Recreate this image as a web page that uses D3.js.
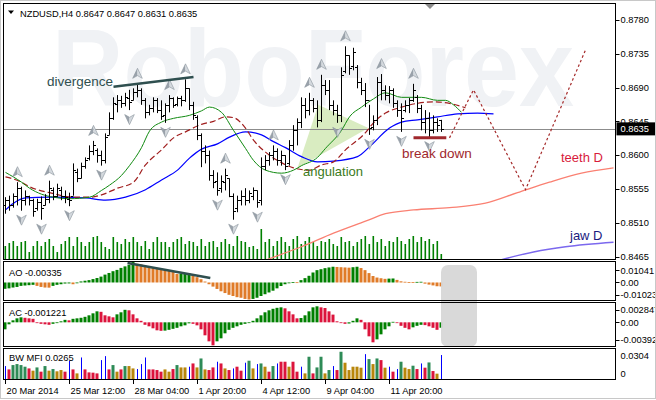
<!DOCTYPE html>
<html><head><meta charset="utf-8">
<script src="https://cdn.jsdelivr.net/npm/d3@7"></script>
<style>
body{margin:0;background:#fff}
svg{display:block}
text{font-family:"Liberation Sans",Arial,sans-serif}
</style>
</head><body>
<svg id="c" width="656" height="400"></svg>
<script>
// ---------------- DATA ----------------
const symbolLabel = "NZDUSD,H4";
const lastQuote = [0.8647, 0.8647, 0.8631, 0.8635];
const currentPrice = 0.8635;

const opens = [0.8533,0.8540,0.8534,0.8545,0.8556,0.8540,0.8545,0.8540,0.8529,0.8537,
0.8533,0.8542,0.8553,0.8546,0.8553,0.8546,0.8542,0.8546,0.8577,0.8570,
0.8585,0.8596,0.8606,0.8607,0.8600,0.8593,0.8627,0.8649,0.8668,0.8673,
0.8669,0.8676,0.8673,0.8684,0.8687,0.8673,0.8657,0.8663,0.8673,0.8660,
0.8653,0.8667,0.8676,0.8668,0.8676,0.8673,0.8689,0.8667,0.8651,0.8627,
0.8606,0.8600,0.8573,0.8566,0.8556,0.8564,0.8569,0.8546,0.8529,0.8540,
0.8546,0.8540,0.8546,0.8553,0.8540,0.8586,0.8593,0.8600,0.8606,0.8593,
0.8600,0.8589,0.8613,0.8633,0.8644,0.8667,0.8660,0.8673,0.8663,0.8647,
0.8693,0.8687,0.8667,0.8660,0.8653,0.8712,0.8733,0.8719,0.8718,0.8697,
0.8687,0.8673,0.8637,0.8647,0.8697,0.8687,0.8680,0.8687,0.8669,0.8660,
0.8660,0.8667,0.8673,0.8678,0.8663,0.8644,0.8649,0.8633,0.8644,0.8647];
const highs = [0.8544,0.8546,0.8549,0.8564,0.8558,0.8553,0.8546,0.8542,0.8542,0.8545,
0.8548,0.8566,0.8557,0.8562,0.8558,0.8553,0.8550,0.8589,0.8582,0.8590,
0.8597,0.8613,0.8619,0.8609,0.8606,0.8629,0.8657,0.8677,0.8680,0.8679,
0.8683,0.8687,0.8689,0.8695,0.8689,0.8676,0.8667,0.8677,0.8676,0.8673,
0.8669,0.8680,0.8677,0.8678,0.8679,0.8701,0.8689,0.8671,0.8653,0.8629,
0.8613,0.8606,0.8580,0.8577,0.8573,0.8582,0.8569,0.8549,0.8546,0.8553,
0.8556,0.8553,0.8557,0.8553,0.8597,0.8600,0.8604,0.8613,0.8609,0.8606,
0.8600,0.8620,0.8640,0.8649,0.8677,0.8676,0.8683,0.8676,0.8673,0.8707,
0.8700,0.8700,0.8673,0.8667,0.8717,0.8745,0.8733,0.8743,0.8720,0.8703,
0.8696,0.8667,0.8653,0.8704,0.8708,0.8693,0.8692,0.8689,0.8673,0.8669,
0.8673,0.8676,0.8695,0.8680,0.8667,0.8660,0.8657,0.8653,0.8649,0.8647];
const lows = [0.8522,0.8526,0.8530,0.8533,0.8526,0.8533,0.8533,0.8518,0.8526,0.8514,
0.8533,0.8536,0.8540,0.8544,0.8540,0.8536,0.8532,0.8546,0.8564,0.8569,
0.8582,0.8593,0.8600,0.8590,0.8586,0.8589,0.8627,0.8647,0.8657,0.8663,
0.8665,0.8660,0.8673,0.8677,0.8667,0.8649,0.8653,0.8657,0.8656,0.8647,
0.8643,0.8657,0.8663,0.8665,0.8665,0.8671,0.8660,0.8647,0.8620,0.8584,
0.8589,0.8566,0.8556,0.8546,0.8550,0.8553,0.8544,0.8514,0.8524,0.8533,
0.8533,0.8536,0.8540,0.8530,0.8533,0.8580,0.8586,0.8593,0.8586,0.8586,
0.8580,0.8586,0.8606,0.8613,0.8636,0.8649,0.8653,0.8657,0.8637,0.8644,
0.8680,0.8660,0.8653,0.8643,0.8644,0.8709,0.8707,0.8713,0.8689,0.8680,
0.8664,0.8627,0.8633,0.8640,0.8673,0.8673,0.8669,0.8663,0.8651,0.8631,
0.8657,0.8656,0.8671,0.8656,0.8633,0.8629,0.8624,0.8629,0.8631,0.8631];
const closes = [0.8540,0.8533,0.8545,0.8556,0.8540,0.8546,0.8540,0.8526,0.8537,0.8530,
0.8542,0.8556,0.8546,0.8556,0.8546,0.8544,0.8540,0.8580,0.8569,0.8586,
0.8593,0.8606,0.8613,0.8600,0.8593,0.8624,0.8649,0.8669,0.8673,0.8669,
0.8677,0.8671,0.8684,0.8687,0.8673,0.8657,0.8663,0.8673,0.8660,0.8652,
0.8667,0.8676,0.8667,0.8676,0.8673,0.8689,0.8667,0.8653,0.8627,0.8606,
0.8600,0.8573,0.8564,0.8553,0.8566,0.8573,0.8546,0.8526,0.8540,0.8546,
0.8540,0.8549,0.8553,0.8537,0.8586,0.8593,0.8600,0.8606,0.8593,0.8600,
0.8586,0.8613,0.8633,0.8644,0.8667,0.8660,0.8673,0.8663,0.8647,0.8693,
0.8687,0.8667,0.8660,0.8653,0.8707,0.8733,0.8716,0.8737,0.8697,0.8687,
0.8673,0.8636,0.8647,0.8697,0.8687,0.8680,0.8687,0.8669,0.8660,0.8649,
0.8667,0.8673,0.8687,0.8663,0.8644,0.8649,0.8633,0.8644,0.8640,0.8635];

const volumes = [1300,1600,1800,1300,1700,1800,700,1300,1800,1300,
1700,2000,1300,700,1500,1800,2200,1300,2200,1700,
1300,1700,2200,2300,1700,1200,1000,2200,1700,1500,
2000,1700,2200,1700,1300,1800,1000,1700,2200,1700,
1700,1200,1700,2000,2200,1500,1800,1700,1300,2000,
1300,1700,1800,1200,1700,2000,1500,1300,2300,1800,
1700,1200,1300,1000,3000,1700,2000,1300,1800,2200,
1700,1300,2000,2300,1500,1800,2200,1700,1300,1800,
1700,2000,1500,1300,2200,1700,1800,1300,1700,2000,
2300,1500,2300,1700,2000,1300,1800,1700,2200,1800,
1500,2000,2300,1700,2200,1800,2000,1500,1800,500];

const aoValues = [-0.0054,-0.0050,-0.0043,-0.0038,-0.0029,-0.0026,-0.0023,-0.0020,-0.0029,-0.0038,
-0.0043,-0.0044,-0.0029,-0.0020,-0.0015,-0.0009,-0.0008,-0.0015,-0.0004,0.0009,
0.0015,0.0020,0.0029,0.0038,0.0050,0.0067,0.0081,0.0096,0.0107,0.0124,
0.0137,0.0150,0.0174,0.0159,0.0154,0.0145,0.0137,0.0130,0.0122,0.0116,
0.0107,0.0102,0.0096,0.0072,0.0074,0.0076,0.0077,0.0060,0.0045,0.0028,
0.0008,-0.0015,-0.0035,-0.0055,-0.0075,-0.0090,-0.0105,-0.0115,-0.0125,-0.0130,
-0.0140,-0.0145,-0.0140,-0.0130,-0.0115,-0.0100,-0.0085,-0.0070,-0.0050,-0.0030,
-0.0015,-0.0005,0.0003,0.0002,0.0020,0.0037,0.0057,0.0085,0.0105,0.0113,
0.0122,0.0128,0.0134,0.0132,0.0130,0.0128,0.0126,0.0130,0.0134,0.0123,
0.0105,0.0080,0.0055,0.0042,0.0036,0.0031,0.0033,0.0034,0.0022,0.0010,
0.0006,0.0004,0.0003,0.0005,0.0006,-0.0010,-0.0018,-0.0025,-0.0032,-0.00335];

const acValues = [-0.00158,-0.00045,0.00045,0.00090,0.00113,0.00102,0.00090,0.00079,-0.00011,-0.00034,
-0.00045,-0.00056,-0.00034,-0.00011,0.00023,0.00056,0.00045,0.00079,0.00090,0.00102,
0.00124,0.00158,0.00203,0.00248,0.00237,0.00158,0.00135,0.00113,0.00180,0.00226,
0.00282,0.00271,0.00180,0.00090,0.00034,-0.00056,-0.00090,-0.00135,-0.00180,-0.00192,
-0.00187,-0.00169,-0.00147,-0.00124,-0.00090,-0.00068,-0.00023,-0.00034,-0.00068,-0.00158,
-0.00293,-0.00429,-0.00519,-0.00429,-0.00361,-0.00248,-0.00169,-0.00124,-0.00090,-0.00056,
-0.00034,-0.00011,0.00034,0.00090,0.00158,0.00226,0.00271,0.00305,0.00327,0.00338,
0.00316,0.00248,0.00180,0.00090,0.00097,0.00158,0.00248,0.00338,0.00361,0.00338,
0.00323,0.00248,0.00174,0.00023,-0.00011,-0.00034,-0.00027,0.00034,0.00090,0.00056,
-0.00158,-0.00316,-0.00451,-0.00384,-0.00271,-0.00158,-0.00090,0.00011,-0.00007,-0.00079,
-0.00124,-0.00158,-0.00113,-0.00079,-0.00056,-0.00063,-0.00090,-0.00124,-0.00169,-0.001221];

const mfiValues = [0.0143,0.0106,0.0154,0.0165,0.0154,0.0136,0.0117,0.0092,0.0128,0.0081,
0.0143,0.0092,0.0110,0.0085,0.0099,0.0081,0.0202,0.0106,0.0062,0.0238,
0.0106,0.0073,0.0070,0.0062,0.0209,0.0253,0.0106,0.0154,0.0081,0.0106,
0.0143,0.0143,0.0117,0.0110,0.0165,0.0238,0.0106,0.0106,0.0099,0.0081,
0.0106,0.0081,0.0110,0.0154,0.0128,0.0128,0.0136,0.0172,0.0128,0.0227,
0.0106,0.0099,0.0128,0.0191,0.0172,0.0117,0.0099,0.0117,0.0136,0.0092,
0.0180,0.0202,0.0117,0.0165,0.0172,0.0136,0.0081,0.0143,0.0172,0.0191,
0.0191,0.0136,0.0191,0.0081,0.0136,0.0062,0.0246,0.0062,0.0128,0.0246,
0.0062,0.0099,0.0143,0.0099,0.0301,0.0180,0.0099,0.0136,0.0136,0.0125,
0.0275,0.0220,0.0165,0.0227,0.0209,0.0125,0.0136,0.0081,0.0110,0.0191,
0.0125,0.0110,0.0147,0.0110,0.0172,0.0125,0.0183,0.0088,0.0059,0.0265];
// g = green, b = fade (brown), f = fake (blue), s = squat (pink)
const mfiKinds = ["f","s","g","g","g","g","s","b","g","s",
"g","b","g","b","b","s","f","s","b","f",
"s","s","s","s","f","f","s","g","b","s",
"g","b","b","f","f","f","s","s","s","s",
"b","b","s","g","b","b","f","s","b","g",
"b","s","s","f","s","b","s","f","s","s",
"f","g","b","f","g","b","s","g","f","s",
"s","b","s","s","f","b","g","s","g","g",
"b","g","f","s","g","b","b","b","b","b",
"f","g","b","g","s","b","f","s","f","g",
"b","b","g","s","f","s","g","s","b","f"];

// Alligator (H4) and daily alligator, read at sample bars (index, price)
const lipsIdx = [0,4,6,9,12,16,21,24,26,29,31,34,36,39,42,46,49,51,54,57,60,62,65,69,72,74,78,80,84,86,89,92,95,99,104,108,110,112,114];
const lipsVal = [0.8577,0.8564,0.8556,0.8548,0.8544,0.8542,0.8544,0.8553,0.8560,0.8573,0.8586,0.8610,0.8632,0.8644,0.8649,0.8653,0.8659,0.8664,0.8657,0.8633,0.8609,0.8593,0.8580,0.8576,0.8580,0.8586,0.8597,0.8609,0.8633,0.8651,0.8664,0.8675,0.8683,0.8677,0.8677,0.8673,0.8673,0.8667,0.8657];
const teethIdx = [0,4,6,11,17,21,24,28,32,35,39,42,45,49,52,55,57,60,62,65,69,72,76,79,82,85,90,92,95,99,103,107,111,115];
const teethVal = [0.8571,0.8564,0.8558,0.8550,0.8544,0.8544,0.8547,0.8556,0.8564,0.8587,0.8607,0.8623,0.8631,0.8641,0.8645,0.8651,0.8650,0.8636,0.8620,0.8604,0.8590,0.8583,0.8580,0.8587,0.8591,0.8607,0.8630,0.8643,0.8656,0.8664,0.8669,0.8671,0.8669,0.8663];
const jawIdx = [0,2,5,11,20,25,30,35,39,43,46,49,53,56,60,64,67,70,74,78,82,88,91,96,99,103,108,113,118,122];
const jawVal = [0.8527,0.8536,0.8543,0.8544,0.8543,0.8540,0.8544,0.8554,0.8567,0.8580,0.8596,0.8608,0.8615,0.8624,0.8631,0.8627,0.8618,0.8610,0.8598,0.8591,0.8592,0.8598,0.8611,0.8636,0.8644,0.8647,0.8651,0.8655,0.8656,0.8655];
const teethDIdx = [64,70,74,82,90,95,102,111,120,128,136,144,152];
const teethDVal = [0.8458,0.8470,0.8478,0.8496,0.8512,0.8522,0.8527,0.8530,0.8536,0.8550,0.8564,0.8576,0.8583];
const jawDIdx = [122,132,140,152];
const jawDVal = [0.8458,0.8471,0.8478,0.8484];

// forecast zigzag
const forecastIdx = [111,117,130,145];
const forecastVal = [0.8623,0.8687,0.8554,0.8740];

// fractals (bar indices)
const fractalUp = [3,11,22,33,41,45,55,67,76,79,85,94,102];
const fractalDown = [4,9,16,24,31,40,53,57,63,70,83,91,99,106];

// annotations
const divergenceIdx = [27,47];
const divergenceVal = [0.8691,0.8704];
const aoDivergenceIdx = [30.5,51.2];
const aoDivergenceVal = [0.0166,0.0038];
const breakDownIdx = [102,110.2];
const breakDownVal = 0.8623;
const angulationIdx = [73,78.2,90.7];
const angulationVal = [0.8583,0.8667,0.8636];

const priceTicks = [0.8780,0.8735,0.8690,0.8645,0.8600,0.8555,0.8510,0.8465];
const aoTicks = [0.01041,0.00,-0.01023];
const aoTickLabels = ["0.01041","0.00","-0.01023"];
const acTicks = [0.002847,0.00,-0.00392];
const acTickLabels = ["0.002847","0.00","-0.00392"];
const mfiTicks = [0.0304,0];
const mfiTickLabels = ["0.0304","0"];
const timeTickIdx = [0,16,32,48,64,80,96];
const timeTickLabels = ["20 Mar 2014","25 Mar 12:00","28 Mar 04:00","1 Apr 20:00","4 Apr 12:00","9 Apr 04:00","11 Apr 20:00"];

// ---------------- DRAW ----------------
const svg = d3.select("#c");
const FS = 9.3;
const L = 3.5, R = 615.5;
const P = {main:[3.5,259.5], ao:[261.5,300.5], ac:[302.5,346.5], mfi:[348.5,379.5]};

const x = d3.scaleLinear().domain([0,109]).range([5.5,441.5]);
const y = d3.scaleLinear().domain([0.8465,0.8780]).range([256.5,20]);
const yVol = d3.scaleLinear().domain([0,3000]).range([259,229]);
const yAO = d3.scaleLinear().domain([-0.01023,0.01041]).range([294.5,270.25]);
const yAC = d3.scaleLinear().domain([-0.00392,0.002847]).range([339.7,309.7]);
const yMFI = d3.scaleLinear().domain([0,0.0304]).range([379,351.5]);

svg.append("rect").attr("x",0).attr("y",0).attr("width",656).attr("height",400).attr("fill","#fff");

const defs = svg.append("defs");
Object.entries(P).forEach(([k,[t,b]])=>{
  defs.append("clipPath").attr("id","clip-"+k).append("rect")
    .attr("x",L+0.5).attr("y",t+0.5).attr("width",R-L-1).attr("height",b-t-1);
});

// watermark
const main = svg.append("g").attr("clip-path","url(#clip-main)");
main.append("text").attr("x",52).attr("y",106).attr("font-size",110).attr("font-weight","bold")
  .attr("fill","#f0f2f5").attr("textLength",522).attr("lengthAdjust","spacingAndGlyphs").text("RoboForex");

// angulation triangle
main.append("path")
  .attr("d", d3.line()(angulationIdx.map((d,i)=>[x(d), y(angulationVal[i])])) + "Z")
  .attr("fill","#d9ecc1");

// volumes
main.append("g").selectAll("rect").data(volumes).join("rect")
  .attr("x",(d,i)=>x(i)-1).attr("width",1.6)
  .attr("y",d=>yVol(d)).attr("height",d=>yVol(0)-yVol(d)).attr("fill","#008000");

// lines
function drawLine(idx, val, color, w, dash){
  main.append("path").attr("d", d3.line().curve(d3.curveMonotoneX)(idx.map((d,i)=>[x(d), y(val[i])])))
    .attr("fill","none").attr("stroke",color).attr("stroke-width",w).attr("stroke-dasharray",dash||null);
}
drawLine(teethDIdx, teethDVal, "#fa8072", 1.3);
drawLine(jawDIdx, jawDVal, "#7b68ee", 1.3);

// current price line
main.append("line").attr("x1",L).attr("x2",R).attr("y1",Math.round(y(currentPrice))+0.5).attr("y2",Math.round(y(currentPrice))+0.5)
  .attr("stroke","#8c8c8c").attr("stroke-width",1);

drawLine(jawIdx, jawVal, "#0000ff", 1.2);
drawLine(teethIdx, teethVal, "#a01e1e", 1.2, "6,3");
drawLine(lipsIdx, lipsVal, "#108a10", 1);

// forecast
main.append("path").attr("d", d3.line()(forecastIdx.map((d,i)=>[x(d), y(forecastVal[i])])))
  .attr("fill","none").attr("stroke","#a52a2a").attr("stroke-width",1.2).attr("stroke-dasharray","2.5,2.5");

// OHLC bars
const pr = v => Math.round(v)+0.5;
main.append("g").selectAll("path").data(d3.range(opens.length)).join("path")
  .attr("d", i => {
    const xx = pr(x(i)-0.5);
    return `M${xx},${y(highs[i])}V${y(lows[i])}M${xx-2.5},${pr(y(opens[i]))}H${xx}M${xx},${pr(y(closes[i]))}H${xx+2.5}`;
  })
  .attr("stroke","#000").attr("stroke-width",1).attr("fill","none");

// fractals
function fractal(g, cx, cy, up){
  const s = up ? 1 : -1;
  const gg = g.append("g").attr("transform",`translate(${cx},${cy}) scale(1,${s})`);
  gg.append("path").attr("d","M0,-5.5L-4.8,4.5L0,1.8Z").attr("fill","#9aa2ab");
  gg.append("path").attr("d","M0,-5.5L4.8,4.5L0,1.8Z").attr("fill","#d4d9de");
  gg.append("path").attr("d","M0,-5.5L-4.8,4.5L0,1.8L4.8,4.5Z").attr("fill","none").attr("stroke","#8a939c").attr("stroke-width",0.6);
}
const fg = main.append("g");
fractalUp.forEach(i => fractal(fg, x(i), y(highs[i]) - 10, true));
fractalDown.forEach(i => fractal(fg, x(i), y(lows[i]) + 9, false));

// annotations
main.append("line").attr("x1",x(divergenceIdx[0])).attr("y1",y(divergenceVal[0]))
  .attr("x2",x(divergenceIdx[1])).attr("y2",y(divergenceVal[1])).attr("stroke","#2f4f4f").attr("stroke-width",2.5);
main.append("text").attr("x",47).attr("y",86).attr("font-size",13.5).attr("fill","#2f4f4f").text("divergence");
main.append("text").attr("x",303).attr("y",176).attr("font-size",13).attr("fill","#3b7a20").text("angulation");
main.append("line").attr("x1",x(breakDownIdx[0])).attr("x2",x(breakDownIdx[1]))
  .attr("y1",y(breakDownVal)).attr("y2",y(breakDownVal)).attr("stroke","#a0282d").attr("stroke-width",3);
main.append("text").attr("x",402).attr("y",158).attr("font-size",13.5).attr("fill","#a0282d").text("break down");
main.append("text").attr("x",561).attr("y",162).attr("font-size",13).attr("fill","#d81b3c").text("teeth D");
main.append("text").attr("x",570).attr("y",240).attr("font-size",13).attr("fill","#1a1a80").text("jaw D");

// chart shift marker
svg.append("path").attr("d","M425,4L435,4L430,9Z").attr("fill","#8c8c8c");

// header
svg.append("path").attr("d","M8,10.5L14,10.5L11,14Z").attr("fill","#000");
svg.append("text").attr("x",20).attr("y",16.5).attr("font-size",FS).attr("fill","#000")
  .text(symbolLabel + "  " + lastQuote.map(v=>v.toFixed(4)).join(" "));

// AO
const ao = svg.append("g").attr("clip-path","url(#clip-ao)");
ao.selectAll("rect").data(aoValues).join("rect")
  .attr("x",(d,i)=>x(i)-2).attr("width",3)
  .attr("y",d=>Math.min(yAO(d),yAO(0))).attr("height",d=>Math.max(0.8,Math.abs(yAO(d)-yAO(0))))
  .attr("fill",(d,i)=> (i===0 || d>aoValues[i-1]) ? "#008000" : "#e07b28");
ao.append("line").attr("x1",x(aoDivergenceIdx[0])).attr("y1",yAO(aoDivergenceVal[0]))
  .attr("x2",x(aoDivergenceIdx[1])).attr("y2",yAO(aoDivergenceVal[1])).attr("stroke","#2f4f4f").attr("stroke-width",2.5);
svg.append("text").attr("x",9).attr("y",275.5).attr("font-size",FS).text("AO " + aoValues[aoValues.length-1].toFixed(5));

// AC
const ac = svg.append("g").attr("clip-path","url(#clip-ac)");
ac.selectAll("rect").data(acValues).join("rect")
  .attr("x",(d,i)=>x(i)-2).attr("width",3)
  .attr("y",d=>Math.min(yAC(d),yAC(0))).attr("height",d=>Math.max(0.8,Math.abs(yAC(d)-yAC(0))))
  .attr("fill",(d,i)=> (i===0 || d>acValues[i-1]) ? "#008000" : "#dc143c");
svg.append("text").attr("x",9).attr("y",315.5).attr("font-size",FS).text("AC " + acValues[acValues.length-1].toFixed(6));

// MFI
const mfiColor = {g:"#2e8b57", b:"#b8860b", f:"#0000ff", s:"#dc143c"};
const mfi = svg.append("g").attr("clip-path","url(#clip-mfi)");
mfi.selectAll("rect").data(mfiValues).join("rect")
  .attr("x",(d,i)=> mfiKinds[i]==="f" ? x(i)-0.5 : x(i)-2)
  .attr("width",(d,i)=> mfiKinds[i]==="f" ? 1 : 3)
  .attr("y",d=>yMFI(d)).attr("height",d=>yMFI(0)-yMFI(d))
  .attr("fill",(d,i)=>mfiColor[mfiKinds[i]]);
svg.append("text").attr("x",9).attr("y",361).attr("font-size",FS).text("BW MFI " + mfiValues[mfiValues.length-1].toFixed(4));

// gray overlay
svg.append("rect").attr("x",441).attr("y",265).attr("width",36).attr("height",82).attr("rx",7)
  .attr("fill","#d6d6d6").attr("opacity",0.92);

// frames
Object.values(P).forEach(([t,b])=>{
  svg.append("rect").attr("x",L).attr("y",t).attr("width",R-L).attr("height",b-t)
    .attr("fill","none").attr("stroke","#000").attr("stroke-width",1);
});

// right axes
function rightLabels(vals, labels, scale){
  vals.forEach((v,i)=>{
    const yy = scale(v);
    svg.append("line").attr("x1",R).attr("x2",R+4).attr("y1",Math.round(yy)+0.5).attr("y2",Math.round(yy)+0.5).attr("stroke","#000");
    svg.append("text").attr("x",R+5).attr("y",yy).attr("dy","0.35em").attr("font-size",FS).text(labels[i]);
  });
}
rightLabels(priceTicks, priceTicks.map(v=>v.toFixed(4)), y);
rightLabels(aoTicks, aoTickLabels, yAO);
rightLabels(acTicks, acTickLabels, yAC);
// MFI labels: top label hangs below max, bottom label sits above zero
svg.append("text").attr("x",R+5).attr("y",yMFI(mfiTicks[0])).attr("dy","0.85em").attr("font-size",FS).text(mfiTickLabels[0]);
svg.append("text").attr("x",R+5).attr("y",yMFI(mfiTicks[1])).attr("dy","-0.25em").attr("font-size",FS).text(mfiTickLabels[1]);

// current price box
const cy = y(currentPrice);
svg.append("rect").attr("x",R+1).attr("y",cy-6.5).attr("width",40).attr("height",13).attr("fill","#000");
svg.append("text").attr("x",R+5).attr("y",cy).attr("dy","0.35em").attr("font-size",FS).attr("fill","#fff").text(currentPrice.toFixed(4));

// time axis
timeTickIdx.forEach((idx,k)=>{
  const xx = pr(x(idx)-0.5);
  svg.append("line").attr("x1",xx).attr("x2",xx).attr("y1",380).attr("y2",384).attr("stroke","#000");
  svg.append("text").attr("x",xx+1).attr("y",394).attr("font-size",FS).text(timeTickLabels[k]);
});

// outer frame
svg.append("rect").attr("x",0.5).attr("y",0.5).attr("width",655).attr("height",398).attr("fill","none").attr("stroke","#c8c8c8");
</script>
</body></html>
